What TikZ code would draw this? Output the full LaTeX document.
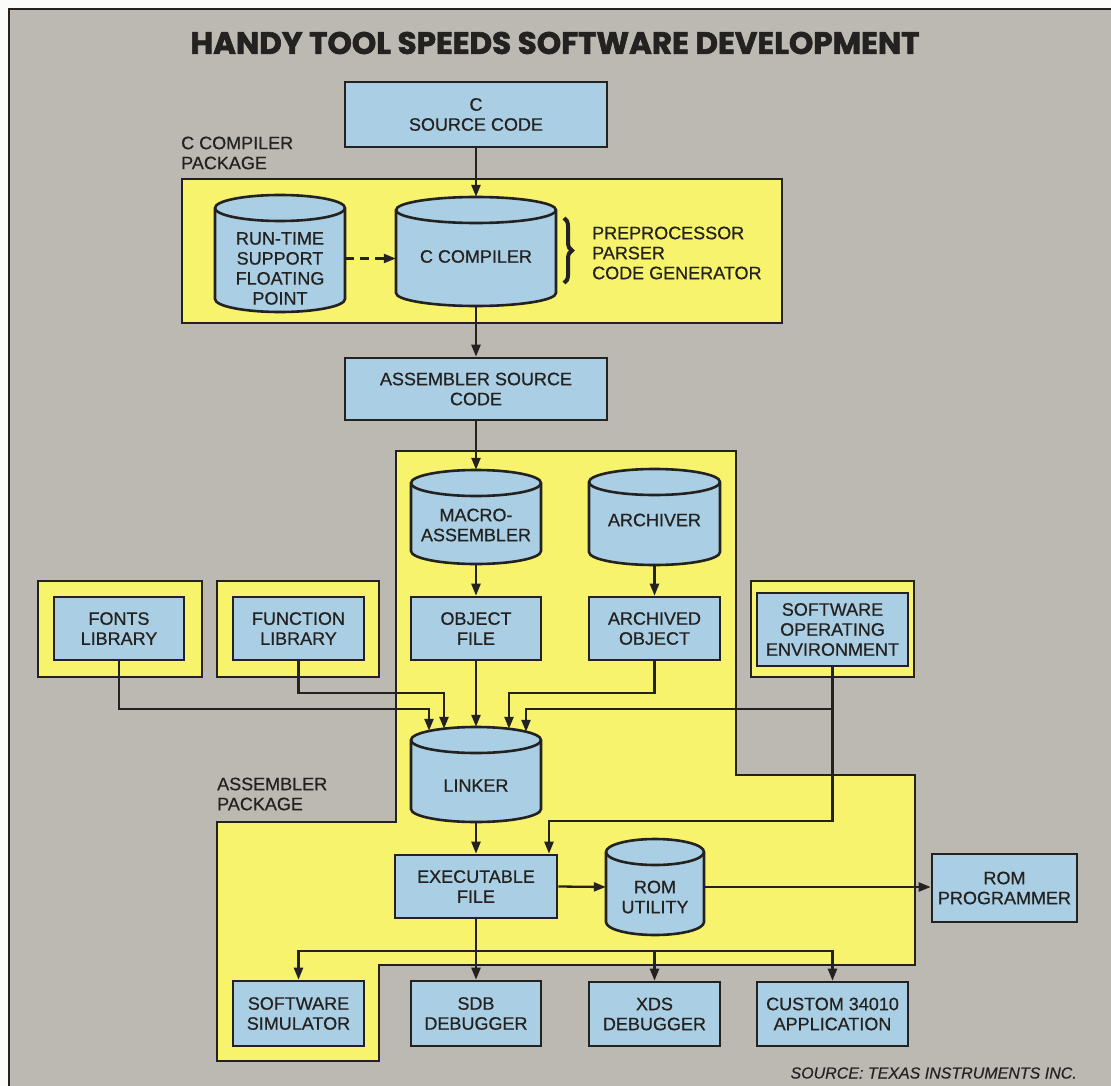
\documentclass[tikz,border=0pt]{standalone}
\usepackage{fontspec}
\setmainfont{Liberation Sans}[UprightFeatures={FakeBold=0.6},ItalicFeatures={FakeBold=0.4}]
\newfontfamily\titlefont{Poppins}[BoldFeatures={FakeBold=2}]
\usetikzlibrary{arrows.meta,calc,decorations.pathreplacing}
\definecolor{bg}{RGB}{188,185,178}
\definecolor{yel}{RGB}{248,243,108}
\definecolor{blu}{RGB}{170,206,227}
\definecolor{ink}{RGB}{36,34,32}
\newcommand\dbox[6]{%
  \node[box,minimum width={(#4-#2)*1pt},minimum height={(#5-#3)*1pt}] (#1) at ({(#2+#4)/2},{(#3+#5)/2}) {#6};}
\newcommand\pbox[5]{%
  \node[pkgbox,minimum width={(#4-#2)*1pt},minimum height={(#5-#3)*1pt}] (#1) at ({(#2+#4)/2},{(#3+#5)/2}) {};}
\newcommand\dcyl[7]{%
  \filldraw[cylfill] (#2,#3+13) -- (#2,#5-13)
    arc[start angle=180,end angle=360,x radius={(#4-#2)/2*1pt},y radius=13pt]
    -- (#4,#3+13)
    arc[start angle=0,end angle=180,x radius={(#4-#2)/2*1pt},y radius=13pt] -- cycle;
  \draw[cylfill,fill=none] (#2,#3+13)
    arc[start angle=180,end angle=360,x radius={(#4-#2)/2*1pt},y radius=13pt];
  \node[cylnode,minimum width={(#4-#2)*1pt},minimum height={(#5-#3)*1pt}] (#1) at ({(#2+#4)/2},{(#3+#5)/2}) {};
  \node[txt] (#1-t) at ([yshift=-#7pt]#1.center) {#6};}
\begin{document}
\begin{tikzpicture}[x=1pt,y=-1pt,
  txt/.style={inner sep=0pt,align=center,text=ink,font=\fontsize{18}{20}\selectfont},
  box/.style={txt,draw=ink,line width=2.6pt,fill=blu},
  pkgbox/.style={draw=ink,line width=2.6pt,fill=yel,inner sep=0pt},
  pkg/.style={draw=ink,line width=2.6pt,fill=yel},
  cylfill/.style={draw=ink,line width=2.6pt,fill=blu},
  cylnode/.style={inner sep=0pt},
  arr/.style={draw=ink,line width=2.3pt,-{Triangle[length=12pt,width=9pt]}},
  lbl/.style={txt,align=left,anchor=west}]
\useasboundingbox (0,0) rectangle (1111,1086);
\clip (0,0) rectangle (1111,1086);
\fill[white!94!bg] (0,0) rectangle (1111,1086);
\filldraw[fill=bg,draw=ink,line width=2pt] (9,9) rectangle (1130,1100);

% title
\node[inner sep=0pt,text=ink,font=\titlefont\bfseries\fontsize{31}{32}\selectfont] (title) at (555,43) {HANDY TOOL SPEEDS SOFTWARE DEVELOPMENT};

% packages
\filldraw[pkg] (182,179) rectangle (782,323);
\node[lbl] (cpkglbl) at (181,153) {C COMPILER\\PACKAGE};
\filldraw[pkg] (396,451) -- (736,451) -- (736,775) -- (915,775) -- (915,965)
  -- (379,965) -- (379,1061) -- (217,1061) -- (217,822) -- (396,822) -- cycle;
\node[lbl] (apkglbl) at (217,794) {ASSEMBLER\\PACKAGE};

% top chain
\dbox{csrc}{345}{82}{607}{147}{C\\SOURCE CODE}
\dcyl{runtime}{215}{195}{345}{312}{RUN-TIME\\SUPPORT\\FLOATING\\POINT}{15}
\dcyl{ccomp}{396}{197}{556}{306}{C COMPILER}{5}
\draw[ink,line width=4pt,decorate,decoration={brace,amplitude=8pt}] (564,218) -- (564,283);
\node[lbl] (stages) at (592,253) {PREPROCESSOR\\PARSER\\CODE GENERATOR};
\dbox{asm}{345}{358}{607}{420}{ASSEMBLER SOURCE\\CODE}

% assembler column
\dcyl{macro}{411}{470}{541}{564}{MACRO-\\ASSEMBLER}{8}
\dcyl{archiver}{589}{469}{720}{565}{ARCHIVER}{3}
\dbox{obj}{411}{597}{541}{660}{OBJECT\\FILE}
\dbox{archobj}{589}{597}{720}{660}{ARCHIVED\\OBJECT}

% libraries
\pbox{fontsout}{38}{581}{202}{677}
\dbox{fonts}{54}{597}{184}{660}{FONTS\\LIBRARY}
\pbox{funcout}{217}{581}{379}{677}
\dbox{func}{233}{597}{364}{660}{FUNCTION\\LIBRARY}
\pbox{envout}{751}{581}{914}{677}
\dbox{env}{757}{593}{908}{666}{SOFTWARE\\OPERATING\\ENVIRONMENT}

\dcyl{linker}{411}{727}{541}{822}{LINKER}{11}
\dbox{exec}{395}{855}{557}{918}{EXECUTABLE\\FILE}
\dcyl{romu}{606}{839}{704}{935}{ROM\\UTILITY}{10}
\dbox{romprog}{932}{854}{1077}{922}{ROM\\PROGRAMMER}

\dbox{sim}{233}{981}{364}{1046}{SOFTWARE\\SIMULATOR}
\dbox{sdb}{411}{981}{541}{1046}{SDB\\DEBUGGER}
\dbox{xds}{589}{982}{720}{1046}{XDS\\DEBUGGER}
\dbox{custom}{757}{982}{908}{1046}{CUSTOM 34010\\APPLICATION}

\node[inner sep=0pt,anchor=east,text=ink,font=\itshape\fontsize{16}{18}\selectfont] (source) at (1077,1073) {SOURCE: TEXAS INSTRUMENTS INC.};

% connectors
\draw[arr] (csrc) -- (ccomp.north);
\draw[arr,dash pattern=on 9pt off 6pt] ([yshift=-5pt]runtime.east) -- ([yshift=-5pt]runtime.east -| ccomp.west);
\draw[arr] (ccomp.south) -- (asm.north);
\draw[arr] (asm.south) -- (macro.north);
\draw[arr] (macro.south) -- (obj.north);
\draw[arr] (archiver.south) -- (archobj.north);

\draw[arr] (fonts.south) |- ($(linker.north)+(-47,-18)$) -- ($(linker.north)+(-47,4)$);
\draw[arr] (func.south) |- ($(linker.north)+(-32,-34)$) -- ($(linker.north)+(-32,2)$);
\draw[arr] (obj.south) -- (linker.north);
\draw[arr] (archobj.south) |- ($(linker.north)+(33,-34)$) -- ($(linker.north)+(33,2)$);
\draw[arr] (env.south) |- ($(linker.north)+(50,-18)$) -- ($(linker.north)+(50,5)$);
\draw[arr] (env.south) |- ($(exec.north)+(73,-33)$) -- ($(exec.north)+(73,0)$);

\draw[arr] (linker.south) -- (exec.north);
\draw[arr] (exec.east) -- (romu.west);
\draw[arr] (romu.east) -- (romu.east -| romprog.west);
\draw[arr] (exec.south) -- (sdb.north);
\draw[arr] (exec.south) -- ++(0,32) -| (sim.north);
\draw[arr] (exec.south) -- ++(0,32) -| (xds.north);
\draw[arr] (exec.south) -- ++(0,32) -| (custom.north);
\end{tikzpicture}
\end{document}
